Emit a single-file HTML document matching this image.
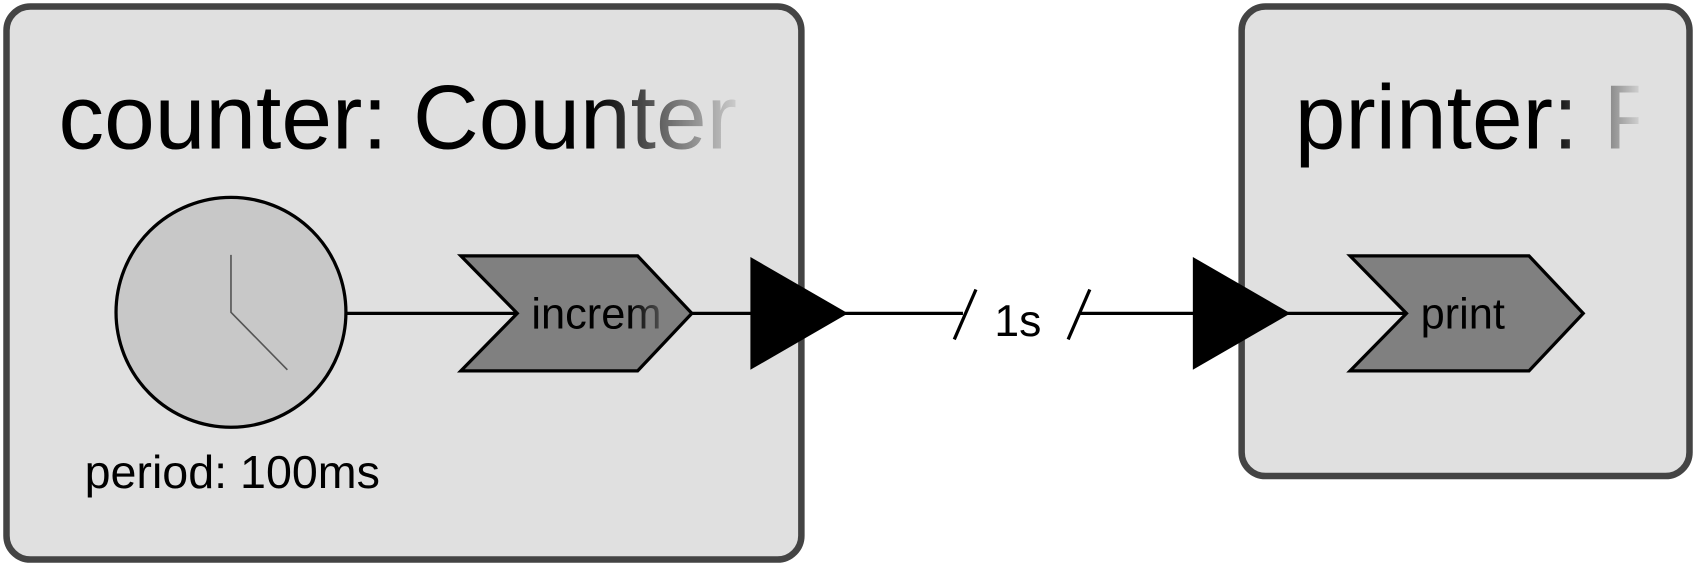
<!DOCTYPE html>
<html><head><meta charset="utf-8"><style>
html,body{margin:0;padding:0;background:#fff;width:1697px;height:565px;overflow:hidden}
svg{display:block}
text{font-family:"Liberation Sans",Arial,sans-serif}
</style></head><body>
<svg width="1697" height="565" viewBox="0 0 1697 565" xmlns="http://www.w3.org/2000/svg">
<defs>
<linearGradient id="g1" gradientUnits="userSpaceOnUse" x1="545" y1="0" x2="690" y2="0">
<stop offset="0" stop-color="#000"/><stop offset="1" stop-color="#dcdcdc"/></linearGradient>
<linearGradient id="g2" gradientUnits="userSpaceOnUse" x1="1430" y1="0" x2="1515" y2="0">
<stop offset="0" stop-color="#000"/><stop offset="1" stop-color="#d8d8d8"/></linearGradient>
<linearGradient id="g3" gradientUnits="userSpaceOnUse" x1="580" y1="0" x2="625" y2="0">
<stop offset="0" stop-color="#000"/><stop offset="1" stop-color="#777"/></linearGradient>
<clipPath id="c1"><rect x="0" y="0" width="688" height="300"/></clipPath>
<clipPath id="c2"><rect x="1100" y="0" width="411" height="300"/></clipPath>
<clipPath id="c3"><rect x="420" y="230" width="198" height="120"/></clipPath>
</defs>
<g transform="scale(1.0844)">
<rect x="6" y="6" width="733" height="510" rx="22" fill="#e0e0e0" stroke="#444" stroke-width="6"/>
<rect x="1145" y="6" width="413" height="433" rx="22" fill="#e0e0e0" stroke="#444" stroke-width="6"/>
<text x="54" y="137" font-size="84" fill="url(#g1)" clip-path="url(#c1)">counter: Counter</text>
<text x="1194" y="137" font-size="84" fill="url(#g2)" clip-path="url(#c2)">printer: P</text>
<circle cx="213" cy="288" r="106" fill="#c8c8c8" stroke="#000" stroke-width="3"/>
<polyline points="213,235 213,288 265,341" fill="none" stroke="#555" stroke-width="1.5"/>
<line x1="320" y1="289" x2="477" y2="289" stroke="#000" stroke-width="3"/>
<polygon points="425,236 588,236 638,289 588,342 425,342 477,289" fill="#808080" stroke="#000" stroke-width="3"/>
<text x="490" y="303" font-size="40" fill="url(#g3)" clip-path="url(#c3)">increm</text>
<line x1="638" y1="289" x2="888" y2="289" stroke="#000" stroke-width="3"/>
<polygon points="692,237 782,289 692,341" fill="#000"/>
<line x1="880" y1="313" x2="900" y2="267" stroke="#000" stroke-width="3"/>
<text x="917" y="310" font-size="41" fill="#000">1s</text>
<line x1="985" y1="313" x2="1005" y2="267" stroke="#000" stroke-width="3"/>
<line x1="995" y1="289" x2="1297" y2="289" stroke="#000" stroke-width="3"/>
<polygon points="1100,237 1190,289 1100,341" fill="#000"/>
<polygon points="1245,236 1410,236 1460,289 1410,342 1245,342 1297,289" fill="#808080" stroke="#000" stroke-width="3"/>
<text x="1310" y="303" font-size="40" fill="#000">print</text>
<text x="78" y="450" font-size="43" fill="#000">period: 100ms</text>
</g>
</svg>
</body></html>
